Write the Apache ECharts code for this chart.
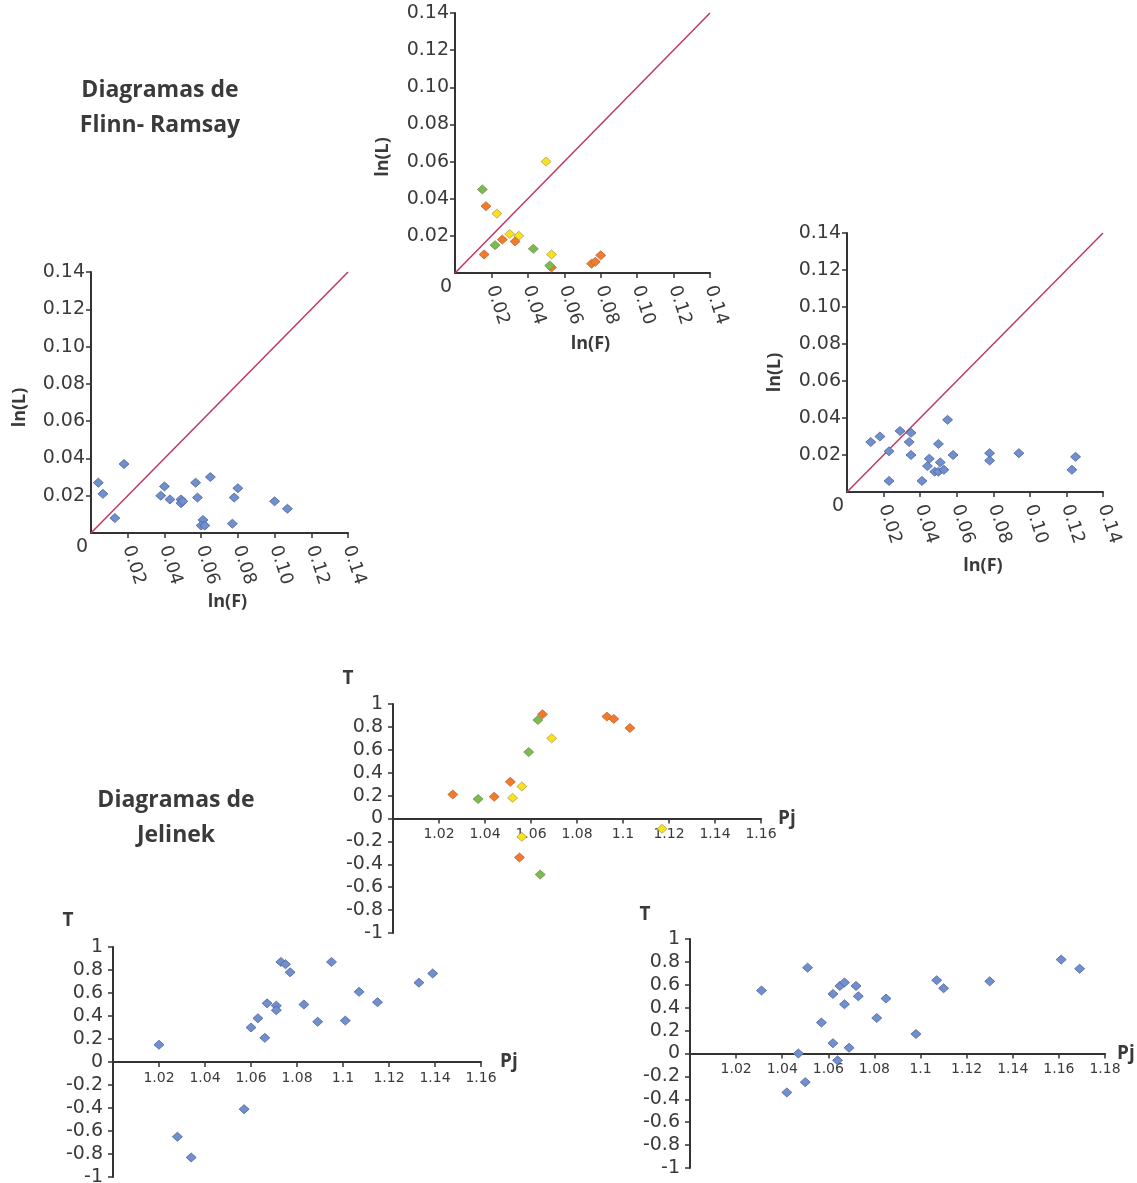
<!DOCTYPE html>
<html><head><meta charset="utf-8">
<script src="https://cdn.jsdelivr.net/npm/echarts@6/dist/echarts.min.js"></script>
<style>html,body{margin:0;padding:0;background:#fff}#c{width:1137px;height:1183px}</style>
</head><body><div id="c"></div>
<script>
// ---- tick labels ----
const FLINN_TICKS = ['0','0.02','0.04','0.06','0.08','0.10','0.12','0.14'];
const T_TICKS = ['-1','-0.8','-0.6','-0.4','-0.2','0','0.2','0.4','0.6','0.8','1'];
const PJ_TICKS = ['1','1.02','1.04','1.06','1.08','1.1','1.12','1.14','1.16','1.18'];
const DIAGONAL = [[0,0],[0.14,0.14]];

// ---- Flinn top (colored groups): [ln(F), ln(L)] ----
const flinnTopOrange = [[0.017,0.036],[0.026,0.018],[0.033,0.017],[0.016,0.010],[0.053,0.003],[0.075,0.005],[0.077,0.006],[0.080,0.0095]];
const flinnTopYellow = [[0.023,0.032],[0.050,0.060],[0.030,0.021],[0.035,0.020],[0.053,0.010]];
const flinnTopGreen  = [[0.015,0.045],[0.022,0.015],[0.043,0.013],[0.052,0.004]];

// ---- Flinn left ----
const flinnLeft = [[0.004,0.027],[0.0065,0.021],[0.018,0.037],[0.013,0.008],[0.038,0.020],[0.040,0.025],
  [0.043,0.018],[0.049,0.018],[0.049,0.016],[0.050,0.017],[0.057,0.027],[0.058,0.019],[0.065,0.030],
  [0.061,0.007],[0.060,0.004],[0.062,0.004],[0.077,0.005],[0.078,0.019],[0.080,0.024],[0.100,0.017],[0.107,0.013]];

// ---- Flinn right ----
const flinnRight = [[0.013,0.027],[0.018,0.030],[0.023,0.022],[0.023,0.006],[0.029,0.033],[0.034,0.027],
  [0.035,0.032],[0.035,0.020],[0.041,0.006],[0.044,0.014],[0.045,0.018],[0.048,0.011],[0.050,0.011],
  [0.050,0.026],[0.051,0.016],[0.053,0.012],[0.055,0.039],[0.058,0.020],[0.078,0.021],[0.078,0.017],
  [0.094,0.021],[0.123,0.012],[0.125,0.019]];

// ---- Jelinek top (colored groups): [Pj, T] ----
const jelTopOrange = [[1.026,0.21],[1.044,0.19],[1.051,0.32],[1.065,0.91],[1.055,-0.34],[1.093,0.89],[1.096,0.87],[1.103,0.79]];
const jelTopYellow = [[1.052,0.18],[1.056,0.28],[1.069,0.70],[1.056,-0.16],[1.117,-0.09]];
const jelTopGreen  = [[1.037,0.17],[1.059,0.58],[1.063,0.86],[1.064,-0.49]];

// ---- Jelinek bottom-left ----
const jelLeft = [[1.020,0.15],[1.028,-0.65],[1.034,-0.83],[1.057,-0.41],[1.060,0.30],[1.063,0.38],[1.066,0.21],
  [1.067,0.51],[1.071,0.49],[1.071,0.45],[1.073,0.87],[1.075,0.85],[1.077,0.78],[1.083,0.50],[1.089,0.35],
  [1.095,0.87],[1.101,0.36],[1.107,0.61],[1.115,0.52],[1.133,0.69],[1.139,0.77]];

// ---- Jelinek bottom-right ----
const jelRight = [[1.031,0.55],[1.042,-0.34],[1.047,0.00],[1.050,-0.25],[1.051,0.75],[1.057,0.27],[1.062,0.09],
  [1.062,0.52],[1.064,-0.06],[1.065,0.59],[1.067,0.62],[1.067,0.43],[1.069,0.05],[1.072,0.59],[1.073,0.50],
  [1.081,0.31],[1.085,0.48],[1.098,0.17],[1.107,0.64],[1.110,0.57],[1.130,0.63],[1.161,0.82],[1.169,0.74]];

const AX = '#333333';
const LBL = '#3a3a3a';
const NUMFONT = 'DejaVu Sans';
const NAMEFONT = 'Open Sans';

const grids = [
  {left:455, top:13,  width:255, height:260},  // Flinn top
  {left:91,  top:272, width:257, height:261},  // Flinn left
  {left:847, top:233, width:256, height:259},  // Flinn right
  {left:393, top:704, width:368, height:229},  // Jelinek top
  {left:113, top:947, width:368, height:230},  // Jelinek left
  {left:690, top:939, width:415, height:229}   // Jelinek right
];

function flinnX(g, gap) {
  return {type:'value', gridIndex:g, min:0, max:0.14, interval:0.02,
    name:'ln(F)', nameLocation:'middle', nameGap:gap, nameMoveOverlap:false,
    nameTextStyle:{fontFamily:NAMEFONT, fontWeight:'bold', fontSize:18, color:LBL, padding:[0,0,0,16]},
    axisLine:{show:true, onZero:false, lineStyle:{color:AX, width:2}},
    axisTick:{show:true, length:5, lineStyle:{color:AX, width:1.5}},
    axisLabel:{rotate:-72, margin:13, showMinLabel:false, fontFamily:NUMFONT, fontSize:18, color:LBL,
      formatter:v => FLINN_TICKS[Math.round(v/0.02)]},
    splitLine:{show:false}};
}
function flinnY(g, gap, shift) {
  return {type:'value', gridIndex:g, min:0, max:0.14, interval:0.02,
    name:'ln(L)', nameLocation:'middle', nameGap:gap, nameMoveOverlap:false,
    nameTextStyle:{fontFamily:NAMEFONT, fontWeight:'bold', fontSize:18, color:LBL, padding:[0,2*shift,0,0]},
    axisLine:{show:true, onZero:false, lineStyle:{color:AX, width:2}},
    axisTick:{show:true, length:5, lineStyle:{color:AX, width:1.5}},
    axisLabel:{margin:6, showMinLabel:false, fontFamily:NUMFONT, fontSize:19, color:LBL,
      formatter:v => FLINN_TICKS[Math.round(v/0.02)]},
    splitLine:{show:false}};
}
// T range is -1..1, so the zero line sits at half the grid height above the bottom edge
function jelX(g, max, gap, padB) {
  return {type:'value', gridIndex:g, min:1, max:max, interval:0.02,
    position:'bottom', offset:-grids[g].height/2,
    name:'Pj', nameLocation:'end', nameGap:gap, nameMoveOverlap:false,
    nameTextStyle:{fontFamily:NAMEFONT, fontWeight:'bold', fontSize:19, color:LBL, padding:[0,0,padB,0]},
    axisLine:{show:true, onZero:false, lineStyle:{color:AX, width:2}},
    axisTick:{show:true, length:5, lineStyle:{color:AX, width:1.5}},
    axisLabel:{margin:9, showMinLabel:false, fontFamily:NUMFONT, fontSize:14, color:LBL,
      formatter:v => PJ_TICKS[Math.round((v-1)/0.02)]},
    splitLine:{show:false}};
}
function jelY(g, gap) {
  return {type:'value', gridIndex:g, min:-1, max:1, interval:0.2,
    name:'T', nameLocation:'end', nameGap:gap, nameMoveOverlap:false,
    nameTextStyle:{fontFamily:NAMEFONT, fontWeight:'bold', fontSize:19, color:LBL, padding:[0,90,0,0]},
    axisLine:{show:true, onZero:false, lineStyle:{color:AX, width:2}},
    axisTick:{show:true, length:5, lineStyle:{color:AX, width:1.5}},
    axisLabel:{margin:10, fontFamily:NUMFONT, fontSize:19, color:LBL,
      formatter:v => T_TICKS[Math.round((v+1)/0.2)]},
    splitLine:{show:false}};
}

const BLUE = ['#6F8FCF','#4D6399'];
const ORANGE = ['#F27A2A','#B86A3C'];
const YELLOW = ['#F7E21E','#B5A050'];
const GREEN = ['#7DBB4E','#6E8E5A'];

function sc(data, col, g) {
  return {type:'scatter', xAxisIndex:g, yAxisIndex:g, data:data, symbol:'diamond', symbolSize:[10,9],
    itemStyle:{color:col[0], borderColor:col[1], borderWidth:0.8, opacity:1}, z:3, silent:true};
}
function diag(g) {
  return {type:'line', xAxisIndex:g, yAxisIndex:g, data:DIAGONAL, symbol:'none',
    lineStyle:{color:'#C2375F', width:1.5}, z:2, silent:true};
}

const chart = echarts.init(document.getElementById('c'), null, {renderer:'canvas'});
const option = {
  animation:false,
  backgroundColor:'#ffffff',
  grid: grids.map(g => Object.assign({show:false, containLabel:false, outerBoundsMode:'none'}, g)),
  xAxis: [flinnX(0,62), flinnX(1,60), flinnX(2,65), jelX(3,1.16,17,8), jelX(4,1.16,19,0), jelX(5,1.18,12,14)],
  yAxis: [flinnY(0,63,14), flinnY(1,62,5), flinnY(2,63,10), jelY(3,16), jelY(4,17), jelY(5,15)],
  series: [
    diag(0), diag(1), diag(2),
    sc(flinnTopYellow, YELLOW, 0), sc(flinnTopOrange, ORANGE, 0), sc(flinnTopGreen, GREEN, 0),
    sc(flinnLeft, BLUE, 1),
    sc(flinnRight, BLUE, 2),
    sc(jelTopYellow, YELLOW, 3), sc(jelTopOrange, ORANGE, 3), sc(jelTopGreen, GREEN, 3),
    sc(jelLeft, BLUE, 4),
    sc(jelRight, BLUE, 5)
  ]
};
chart.setOption(option);

const graphics = [
  {type:'text', x:160, y:73, style:{text:'Diagramas de\nFlinn- Ramsay', align:'center', verticalAlign:'top',
    fontFamily:NAMEFONT, fontWeight:'bold', fontSize:23, lineHeight:35, fill:LBL}},
  {type:'text', x:176, y:783, style:{text:'Diagramas de\nJelinek', align:'center', verticalAlign:'top',
    fontFamily:NAMEFONT, fontWeight:'bold', fontSize:23, lineHeight:35, fill:LBL}}
];
[0,1,2].forEach(g => {
  const p = chart.convertToPixel({gridIndex:g}, [0,0]);
  graphics.push({type:'text', x:p[0]-9, y:p[1]+14, style:{text:FLINN_TICKS[0], align:'center', verticalAlign:'middle',
    fontFamily:NUMFONT, fontSize:19, fill:LBL}});
});
chart.setOption({graphic: graphics});
</script>
</body></html>
